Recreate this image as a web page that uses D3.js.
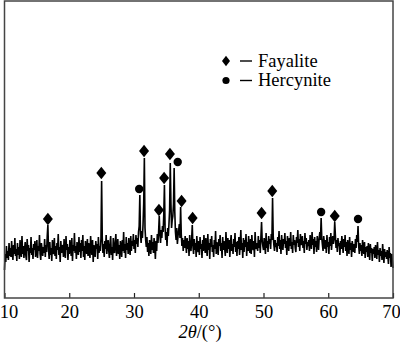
<!DOCTYPE html>
<html>
<head>
<meta charset="utf-8">
<script src="https://cdn.jsdelivr.net/npm/d3@7"></script>
<style>
  body { margin: 0; background: #fff; }
  text { font-family: "Liberation Serif", "Times New Roman", Times, "DejaVu Serif", serif; fill: #000; }
</style>
</head>
<body>
<script>

    var width = 400, height = 344;

    // 2theta grid: 10.0 .. 70.0, step 0.1
    var start = 10, step = 0.1;

    // intensity (a.u.), one row per degree
    var intensity = [
      28, 44, 36, 52, 40, 47, 38, 55, 42, 50,
      41, 57, 45, 38, 53, 44, 60, 42, 49, 37,
      55, 43, 51, 39, 58, 46, 41, 62, 44, 52,
      40, 49, 56, 42, 38, 59, 47, 53, 36, 50,
      45, 61, 43, 50, 39, 54, 48, 57, 41, 46,
      58, 40, 52, 47, 63, 44, 38, 55, 49, 42,
      51, 45, 59, 41, 53, 46, 62, 73, 48, 39,
      56, 43, 50, 37, 58, 47, 44, 60, 42, 52,
      39, 55, 48, 64, 43, 51, 36, 57, 45, 50,
      53, 41, 59, 46, 40, 62, 48, 54, 38, 51,
      44, 58, 50, 42, 60, 37, 53, 47, 65, 45,
      52, 39, 56, 48, 43, 61, 46, 55, 40, 58,
      47, 63, 41, 52, 38, 57, 49, 44, 59, 42,
      55, 46, 40, 62, 50, 43, 58, 36, 53, 48,
      41, 57, 49, 54, 39, 61, 45, 52, 47, 60,
      117, 60, 45, 54, 41, 57, 49, 63, 44, 52,
      58, 47, 40, 55, 62, 43, 51, 38, 60, 49,
      45, 56, 64, 42, 50, 59, 44, 53, 39, 57,
      52, 41, 58, 47, 66, 45, 54, 40, 61, 48,
      55, 44, 60, 50, 43, 62, 47, 57, 52, 64,
      49, 58, 45, 63, 54, 60, 51, 66, 72, 103,
      64, 55, 67, 60, 74, 95, 140, 70, 58, 51,
      61, 46, 55, 42, 58, 50, 44, 63, 48, 56,
      45, 60, 52, 39, 57, 47, 64, 55, 66, 82,
      64, 55, 68, 60, 72, 66, 84, 113, 70, 58,
      66, 52, 70, 62, 74, 88, 135, 96, 70, 78,
      82, 94, 130, 86, 66, 58, 70, 54, 62, 68,
      74, 60, 91, 64, 52, 60, 47, 58, 50, 62,
      54, 45, 60, 49, 57, 42, 63, 51, 47, 58,
      73, 52, 44, 59, 48, 55, 41, 62, 50, 46,
      57, 43, 61, 49, 54, 40, 58, 47, 63, 52,
      45, 60, 50, 42, 64, 48, 55, 39, 59, 51,
      62, 46, 53, 41, 58, 49, 67, 44, 56, 50,
      43, 59, 52, 63, 47, 55, 40, 61, 48, 57,
      50, 42, 66, 53, 45, 60, 49, 58, 41, 55,
      63, 47, 54, 44, 59, 51, 65, 46, 56, 42,
      57, 49, 61, 43, 53, 68, 48, 55, 40, 60,
      46, 58, 51, 64, 42, 56, 47, 62, 50, 45,
      59, 44, 63, 52, 48, 57, 41, 66, 53, 49,
      55, 47, 62, 50, 58, 45, 61, 76, 57, 52,
      48, 60, 53, 44, 65, 50, 57, 46, 62, 54,
      59, 49, 64, 58, 100, 62, 53, 47, 58, 51,
      55, 46, 61, 52, 67, 49, 58, 44, 63, 53,
      48, 59, 54, 65, 50, 57, 43, 62, 55, 47,
      60, 52, 66, 49, 56, 45, 63, 53, 58, 50,
      46, 61, 55, 68, 51, 59, 47, 64, 53, 57,
      62, 50, 57, 45, 65, 54, 60, 48, 56, 52,
      58, 47, 63, 55, 49, 66, 53, 59, 44, 61,
      51, 57, 46, 62, 54, 48, 60, 66, 58, 80,
      60, 53, 47, 62, 55, 49, 58, 45, 63, 51,
      56, 44, 61, 52, 65, 48, 57, 62, 54, 59,
      76, 63, 50, 58, 46, 60, 52, 55, 43, 57,
      49, 62, 54, 45, 59, 51, 63, 47, 56, 42,
      58, 50, 44, 61, 48, 55, 41, 57, 52, 46,
      54, 45, 59, 50, 63, 56, 72, 52, 44, 55,
      47, 53, 42, 58, 49, 44, 56, 40, 51, 46,
      52, 41, 55, 47, 38, 54, 45, 50, 37, 49,
      44, 51, 40, 53, 46, 39, 56, 43, 48, 36,
      50, 42, 47, 38, 54, 44, 35, 49, 41, 46,
      39, 48, 42, 34, 51, 40, 45, 31, 44, 37,
      30
    ];

    // peak markers
    var markerAngles = [16.7, 24.95, 30.8, 31.55, 33.85, 34.65, 35.55, 36.75, 37.35, 39.05, 49.7, 51.35, 58.9, 61.0, 64.6];
    var markerPhases = ["F", "F", "H", "F", "F", "F", "F", "H", "F", "F", "F", "F", "H", "F", "H"];
    var markerLevels = [79, 125, 109, 147, 88, 120, 144, 136, 97, 80, 85, 107, 86, 82, 79];

    var phaseKeys = ["F", "H"];
    var phaseNames = ["Fayalite", "Hercynite"];

    var xTicks = [10, 20, 30, 40, 50, 60, 70];

    var data = intensity.map(function(v, i) { return { a: start + i * step, v: v }; });

    var svg = d3.select("body")
    .append("svg")
    .attr("width", width)
    .attr("height", height);

    var x = d3.scaleLinear()
    .domain([10, 70])
    .range([4.5, 393]);

    var y = d3.scaleLinear()
    .domain([0, 297])
    .range([298, 1]);

    // pattern
    var line = d3.line()
    .x(function(d) { return x(d.a); })
    .y(function(d) { return y(d.v); });

    svg.append("path")
    .datum(data)
    .attr("fill", "none")
    .attr("stroke", "#000")
    .attr("stroke-width", 1.6)
    .attr("stroke-linejoin", "bevel")
    .attr("d", line);

    // symbols
    function diamond(w, h) {
        return "M0," + (-h) + "L" + w + ",0L0," + h + "L" + (-w) + ",0Z";
    }

    var marks = svg.selectAll("g.mark")
    .data(markerAngles)
    .enter().append("g")
    .attr("class", "mark")
    .attr("transform", function(d, i) { return "translate(" + x(d) + "," + y(markerLevels[i]) + ")"; });

    marks.filter(function(d, i) { return markerPhases[i] == "F"; })
    .append("path")
    .attr("d", diamond(5, 6.2))
    .attr("fill", "#000");

    marks.filter(function(d, i) { return markerPhases[i] == "H"; })
    .append("circle")
    .attr("r", 4.2)
    .attr("fill", "#000");

    // axis, ticks pointing inward
    var xAxis = d3.axisBottom(x)
    .tickValues(xTicks)
    .tickSize(-5)
    .tickPadding(7)
    .tickFormat(function(d) { return d; });

    var gx = svg.append("g")
    .attr("transform", "translate(0,298)")
    .call(xAxis)
    .attr("font-family", "Liberation Serif")
    .attr("font-size", 18.5);

    gx.select(".domain").remove();
    gx.selectAll("line").attr("stroke", "#222").attr("stroke-width", 1.2);
    gx.selectAll("text")
    .attr("fill", "#000")
    .attr("dx", function(d) { return d == 10 ? 4 : (d == 70 ? -2 : 0); });

    // frame
    svg.append("rect")
    .attr("x", x(10))
    .attr("y", 1)
    .attr("width", x(70) - x(10))
    .attr("height", 297)
    .attr("fill", "none")
    .attr("stroke", "#444")
    .attr("stroke-width", 1.5);

    // axis title
    var title = svg.append("text")
    .attr("x", 200)
    .attr("y", 338)
    .attr("text-anchor", "middle")
    .attr("font-size", 18.5);
    title.append("tspan").attr("font-style", "italic").text("2θ");
    title.append("tspan").text("/(°)");

    // legend
    var legend = svg.selectAll(".legend")
    .data(phaseKeys)
    .enter().append("g")
    .attr("class", "legend")
    .attr("transform", function(d, i) { return "translate(226," + (61 + i * 19.5) + ")"; });

    legend.filter(function(d) { return d == "F"; })
    .append("path")
    .attr("d", diamond(4, 5.3))
    .attr("fill", "#000");

    legend.filter(function(d) { return d == "H"; })
    .append("circle")
    .attr("r", 3.6)
    .attr("fill", "#000");

    legend.append("line")
    .attr("x1", 14)
    .attr("x2", 26)
    .attr("y1", 0)
    .attr("y2", 0)
    .attr("stroke", "#000")
    .attr("stroke-width", 1.4);

    legend.append("text")
    .attr("x", 32)
    .attr("y", 5.5)
    .attr("font-size", 18.5)
    .text(function(d, i) { return phaseNames[i]; });

    </script>
</body>
</html>
